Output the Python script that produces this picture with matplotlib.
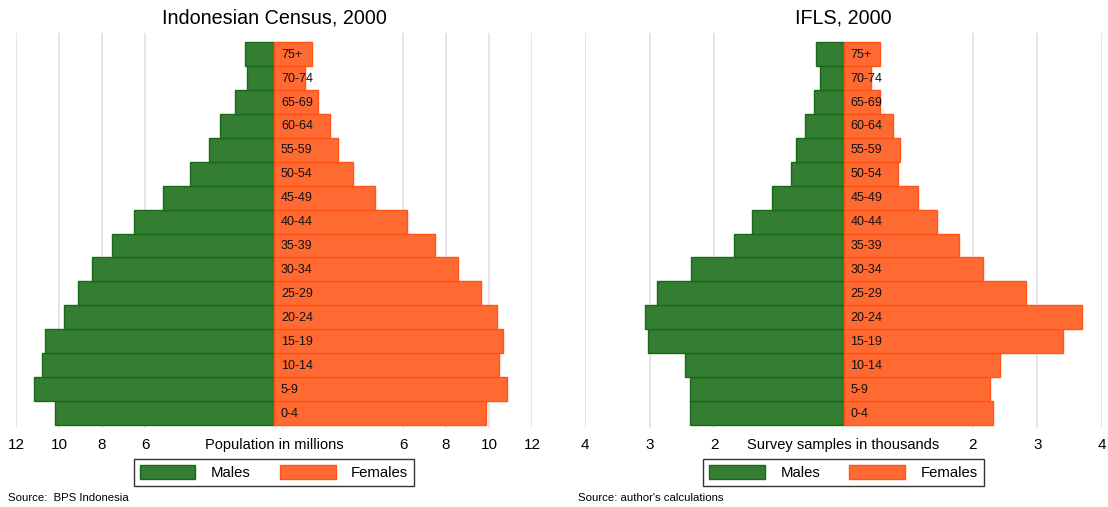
import matplotlib
matplotlib.use("Agg")
import matplotlib.pyplot as plt
from matplotlib.patches import Patch
import numpy as np

plt.rcParams['font.family'] = ['Liberation Sans', 'DejaVu Sans']

age_groups = ["0-4", "5-9", "10-14", "15-19", "20-24", "25-29", "30-34", "35-39",
              "40-44", "45-49", "50-54", "55-59", "60-64", "65-69", "70-74", "75+"]

# Indonesian Census 2000, millions
census_males = [10.19, 11.16, 10.79, 10.65, 9.77, 9.12, 8.47, 7.53,
                6.51, 5.16, 3.91, 3.02, 2.51, 1.81, 1.26, 1.35]
census_females = [9.86, 10.84, 10.47, 10.65, 10.37, 9.63, 8.56, 7.49,
                  6.19, 4.70, 3.67, 2.98, 2.60, 2.05, 1.44, 1.77]

# IFLS 2000, thousands
ifls_males = [2.37, 2.37, 2.45, 3.02, 3.07, 2.88, 2.36, 1.69,
              1.41, 1.10, 0.81, 0.73, 0.59, 0.45, 0.37, 0.42]
ifls_females = [2.31, 2.26, 2.42, 3.40, 3.69, 2.82, 2.16, 1.78,
                1.44, 1.16, 0.84, 0.87, 0.76, 0.57, 0.43, 0.57]

census_ticks = [-12, -10, -8, -6, 6, 8, 10, 12]
ifls_ticks = [-4, -3, -2, 2, 3, 4]

titles = ["Indonesian Census, 2000", "IFLS, 2000"]
xlabels = ["Population in millions", "Survey samples in thousands"]
sources = ["Source:  BPS Indonesia", "Source: author's calculations"]
legend_labels = ["Males", "Females"]

GREEN = "#347E31"
GREEN_EDGE = "#19691A"
ORANGE = "#FF6A33"
ORANGE_EDGE = "#FF5416"
GRID = "#E2E2E2"

W, H = 1108, 507
fig = plt.figure(figsize=(W / 100, H / 100), dpi=100)

top_px, bot_px = 33, 428
panels = [
    dict(x0=16, x1=532, lim=12, males=census_males, females=census_females,
         ticks=census_ticks, src_x=8),
    dict(x0=585, x1=1102, lim=4, males=ifls_males, females=ifls_females,
         ticks=ifls_ticks, src_x=578),
]

y = np.arange(len(age_groups))
for k, p in enumerate(panels):
    ax = fig.add_axes([p['x0'] / W, 1 - bot_px / H, (p['x1'] - p['x0']) / W,
                       (bot_px - top_px) / H])
    for t in p['ticks']:
        ax.axvline(t, color=GRID, lw=1.2, zorder=0)
    ax.barh(y, [-v for v in p['males']], height=1.0, color=GREEN,
            edgecolor=GREEN_EDGE, linewidth=1.0, zorder=2)
    ax.barh(y, p['females'], height=1.0, color=ORANGE,
            edgecolor=ORANGE_EDGE, linewidth=1.0, zorder=2)
    for yi, lab in zip(y, age_groups):
        ax.annotate(lab, xy=(0, yi), xytext=(5, -0.5), textcoords='offset points',
                    ha='left', va='center', fontsize=9, color='#111111', zorder=3)
    ax.set_xlim(-p['lim'], p['lim'])
    ax.set_ylim(-0.625, 15.876)
    ax.set_xticks(p['ticks'])
    ax.set_xticklabels([str(abs(t)) for t in p['ticks']], fontsize=11)
    ax.tick_params(axis='x', length=0, pad=7)
    ax.set_yticks([])
    for s in ax.spines.values():
        s.set_visible(False)
    ax.annotate(xlabels[k], xy=(0, 0), xycoords=ax.get_xaxis_transform(),
                xytext=(0, -7.3), textcoords='offset points', ha='center', va='top',
                fontsize=10.5)
    ax.set_title(titles[k], fontsize=14.2, pad=7)

    cx = (p['x0'] + p['x1']) / 2
    handles = [Patch(facecolor=GREEN, edgecolor=GREEN_EDGE),
               Patch(facecolor=ORANGE, edgecolor=ORANGE_EDGE)]
    leg = fig.legend(handles, legend_labels, loc='center',
                     bbox_to_anchor=(cx / W, 1 - 472.5 / H), ncol=2, fontsize=10.7,
                     frameon=True, fancybox=False, edgecolor='black',
                     handlelength=3.75, handleheight=1.05, handletextpad=1.05,
                     columnspacing=1.95, borderpad=0.4, borderaxespad=0)
    leg.get_frame().set_linewidth(1.0)

    fig.text(p['src_x'] / W, 1 - 498 / H, sources[k], fontsize=8.2,
             family=['Liberation Sans Narrow', 'Liberation Sans'],
             ha='left', va='center')

fig.savefig("out.png", dpi=100)
